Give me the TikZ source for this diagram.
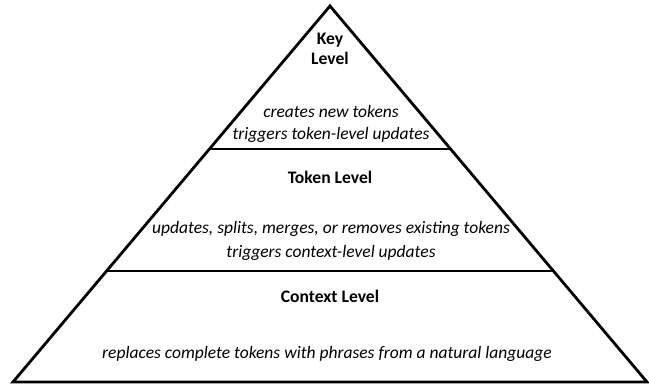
\documentclass[tikz,border=0pt]{standalone}
\usepackage{fontspec}
\setmainfont{Carlito}
\usetikzlibrary{calc}
\begin{document}
\begin{tikzpicture}[x=1pt,y=-1pt,
  outline/.style={line width=2.8pt,line join=miter},
  divider/.style={line width=2.8pt},
  title/.style={font=\fontsize{17.6}{20}\selectfont\bfseries,align=center,inner sep=0pt},
  desc/.style={font=\fontsize{17.5}{20}\selectfont\itshape,align=center,inner sep=0pt}]
\useasboundingbox (0,0) rectangle (649,385);
% pyramid corners
\coordinate (apex) at (330,6);
\coordinate (bl) at (13,382);
\coordinate (br) at (647,382);
\draw[outline] (apex) -- (br) -- (bl) -- cycle;
% level dividers
\coordinate (d1l) at ($(apex)!0.3803!(bl)$);
\coordinate (d1r) at ($(apex)!0.3803!(br)$);
\coordinate (d2l) at ($(apex)!0.7048!(bl)$);
\coordinate (d2r) at ($(apex)!0.7048!(br)$);
\draw[divider] (d1l) -- (d1r);
\draw[divider] (d2l) -- (d2r);
% key level
\node[title] (keyt) at (330,49) {Key\\[0pt]Level};
\node[desc] (key1) at (331,111) {creates new tokens};
\node[desc] (key2) at (331,135) {triggers token-level updates};
% token level
\node[title] (tokt) at (330,177) {Token Level};
\node[desc] (tok1) at (331,229) {updates, splits, merges, or removes existing tokens};
\node[desc] (tok2) at (331,253) {triggers context-level updates};
% context level
\node[title] (ctxt) at (330,296) {Context Level};
\node[desc] (ctx1) at (327,354) {replaces complete tokens with phrases from a natural language};
\end{tikzpicture}
\end{document}
